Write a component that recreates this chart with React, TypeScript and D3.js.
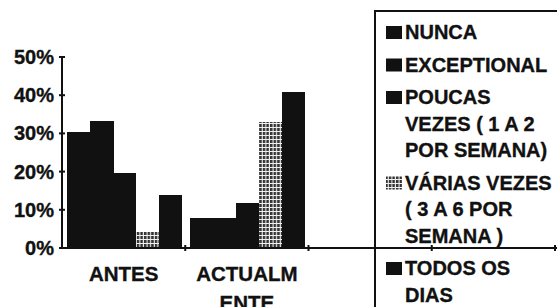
import React from "react";
import * as d3 from "d3";

const categoryLines: string[][] = [["ANTES"], ["ACTUALM", "ENTE"]];
const slotCount = 4;
const seriesNames = [
  "NUNCA",
  "EXCEPTIONAL",
  "POUCAS VEZES ( 1 A 2 POR SEMANA)",
  "VÁRIAS VEZES ( 3 A 6 POR SEMANA )",
  "TODOS OS DIAS",
];
const legendLines: string[][] = [
  ["NUNCA"],
  ["EXCEPTIONAL"],
  ["POUCAS", "VEZES ( 1 A 2", "POR SEMANA)"],
  ["VÁRIAS VEZES", "( 3 A 6 POR", "SEMANA )"],
  ["TODOS OS", "DIAS"],
];
const antesValues = [30.4, 33.2, 19.7, 4.1, 13.9];
const actualmenteValues = [7.9, 7.9, 11.7, 32.9, 40.8];
const yTicks = [0, 10, 20, 30, 40, 50];

const W = 557;
const H = 307;
const FONT = "'Liberation Sans', Arial, Helvetica, sans-serif";
const INK = "#111";

export default function App() {
  const values = [antesValues, actualmenteValues];
  const x = d3.scaleBand<number>().domain(d3.range(slotCount)).range([62, 555]).padding(0);
  const inner = d3.scaleBand<number>().domain(d3.range(seriesNames.length)).range([5, 120]).padding(0);
  const y = d3.scaleLinear().domain([0, 50]).range([248, 57]);
  const fillFor = (i: number) => (i === 3 ? "url(#grid)" : INK);

  // legend layout
  const lineH = 26.5;
  const gap = 6;
  let cursor = 39;
  const legendItems = legendLines.map((lines, i) => {
    const base = cursor;
    cursor = base + lines.length * lineH + gap;
    return { lines, base, i };
  });

  const textStroke = { stroke: INK, strokeWidth: 0.35 };

  return (
    <svg
      width={W}
      height={H}
      style={{ position: "absolute", left: 0, top: 0, background: "#fff" }}
      fontFamily={FONT}
      fontWeight="bold"
    >
      <defs>
        <pattern id="grid" width="3.6" height="4" patternUnits="userSpaceOnUse">
          <rect width="3.6" height="4" fill="#f0f0f0" />
          <rect x="0" y="0" width="2.5" height="3" fill="#333" />
        </pattern>
      </defs>

      {/* bars */}
      {values.map((vals, c) =>
        vals.map((v, s) => (
          <rect
            key={`${c}-${s}`}
            x={(x(c) ?? 0) + (inner(s) ?? 0)}
            y={y(v)}
            width={inner.bandwidth() + (s < vals.length - 1 && s !== 2 && s !== 3 ? 0.6 : 0)}
            height={y(0) - y(v)}
            fill={fillFor(s)}
            shapeRendering="crispEdges"
          />
        ))
      )}

      {/* y axis */}
      <line x1={62} x2={62} y1={y(50)} y2={y(0)} stroke={INK} strokeWidth={2} />
      {yTicks.map((t) => (
        <g key={t}>
          <line x1={59} x2={65} y1={y(t)} y2={y(t)} stroke={INK} strokeWidth={2} />
          <text x={54} y={y(t)} dy="0.35em" textAnchor="end" fontSize={20} fill={INK} {...textStroke}>
            {`${t}%`}
          </text>
        </g>
      ))}

      {/* x axis */}
      <line x1={62} x2={W} y1={y(0)} y2={y(0)} stroke={INK} strokeWidth={2} />
      {d3.range(1, slotCount + 1).map((i) => {
        const xx = i < slotCount ? x(i) ?? 0 : x.range()[1];
        return <line key={i} x1={xx} x2={xx} y1={y(0) - 3} y2={y(0) + 3} stroke={INK} strokeWidth={2} />;
      })}
      {categoryLines.map((lines, c) => (
        <text key={c} textAnchor="middle" fontSize={20.5} fill={INK} {...textStroke}>
          {lines.map((ln, k) => (
            <tspan key={k} x={(x(c) ?? 0) + x.bandwidth() / 2} y={281 + k * 29}>
              {ln}
            </tspan>
          ))}
        </text>
      ))}

      {/* legend */}
      <path d={`M${W + 5},11 H375 V${H + 5}`} fill="none" stroke={INK} strokeWidth={2} />
      {legendItems.map(({ lines, base, i }) => (
        <g key={i}>
          <rect x={386} y={base - 13} width={16} height={13} fill={fillFor(i)} />
          <text fontSize={20} fill={INK} {...textStroke}>
            {lines.map((ln, k) => (
              <tspan key={k} x={405} y={base + k * lineH}>
                {ln}
              </tspan>
            ))}
          </text>
        </g>
      ))}
    </svg>
  );
}
